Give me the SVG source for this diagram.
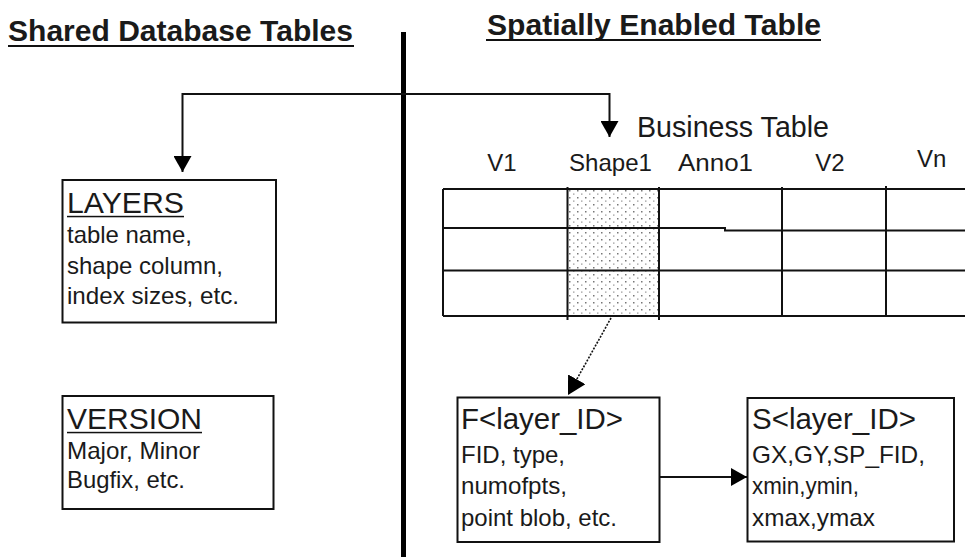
<svg xmlns="http://www.w3.org/2000/svg" width="965" height="557" viewBox="0 0 965 557">
  <style>
    text { font-family: "Liberation Sans", Arial, sans-serif; fill: #1a1a1a; }
    .title { font-size: 30px; font-weight: bold; }
    .head { font-size: 30px; }
    .body { font-size: 24px; }
    .col { font-size: 24px; }
    .box { fill: #ffffff; stroke: #111; stroke-width: 2; }
    .grid { fill: none; stroke: #111; stroke-width: 2; }
    .link { fill: none; stroke: #111; stroke-width: 2; }
    .dotted { fill: none; stroke: #111; stroke-width: 1.6; stroke-dasharray: 2 1.4; }
  </style>
  <defs>
    <marker id="arrow" viewBox="0 0 16 18" refX="16" refY="9" markerWidth="16" markerHeight="18" markerUnits="userSpaceOnUse" orient="auto-start-reverse">
      <path d="M0,0 L16,9 L0,18 Z" fill="#000"/>
    </marker>
    <marker id="arrow-lg" viewBox="0 0 18 20" refX="18" refY="10" markerWidth="18" markerHeight="20" markerUnits="userSpaceOnUse" orient="auto">
      <path d="M0,0 L18,10 L0,20 Z" fill="#000"/>
    </marker>
    <pattern id="stipple" width="8" height="7" patternUnits="userSpaceOnUse">
      <rect x="1" y="1" width="1.5" height="1.5" fill="#777"/>
      <rect x="5" y="4.5" width="1.5" height="1.2" fill="#999"/>
    </pattern>
  </defs>

  <!-- section headings -->
  <g id="headings">
    <text class="title" x="8" y="41" textLength="345" lengthAdjust="spacingAndGlyphs">Shared Database Tables</text>
    <rect x="8" y="45" width="346" height="2" fill="#111"/>
    <text class="title" x="487" y="34.5" textLength="334" lengthAdjust="spacingAndGlyphs">Spatially Enabled Table</text>
    <rect x="486" y="39" width="335" height="2" fill="#111"/>
  </g>

  <!-- divider between the two sections -->
  <rect id="divider" x="401" y="32" width="5" height="525" fill="#000"/>

  <!-- LAYERS table -->
  <g id="layers">
    <rect class="box" x="62.5" y="180" width="213.5" height="142.5"/>
    <text class="head" x="67" y="213" textLength="117" lengthAdjust="spacingAndGlyphs">LAYERS</text>
    <rect x="67" y="215.8" width="117" height="1.5" fill="#111"/>
    <text class="body" x="67" y="243" textLength="125" lengthAdjust="spacingAndGlyphs">table name,</text>
    <text class="body" x="67" y="273.5" textLength="156" lengthAdjust="spacingAndGlyphs">shape column,</text>
    <text class="body" x="67" y="304" textLength="172" lengthAdjust="spacingAndGlyphs">index sizes, etc.</text>
  </g>

  <!-- VERSION table -->
  <g id="version">
    <rect class="box" x="62.5" y="396" width="211" height="113"/>
    <text class="head" x="67" y="428.5" textLength="135" lengthAdjust="spacingAndGlyphs">VERSION</text>
    <rect x="67" y="431.8" width="135" height="1.5" fill="#111"/>
    <text class="body" x="67" y="458.5" textLength="133" lengthAdjust="spacingAndGlyphs">Major, Minor</text>
    <text class="body" x="67" y="488" textLength="118" lengthAdjust="spacingAndGlyphs">Bugfix, etc.</text>
  </g>

  <!-- business table with its shape column -->
  <g id="business-table">
    <text class="head" x="637" y="137" font-size="28" textLength="192" lengthAdjust="spacingAndGlyphs">Business Table</text>
    <text class="col" x="502" y="171" text-anchor="middle">V1</text>
    <text class="col" x="569" y="171" textLength="83" lengthAdjust="spacingAndGlyphs">Shape1</text>
    <text class="col" x="678" y="171" textLength="75" lengthAdjust="spacingAndGlyphs">Anno1</text>
    <text class="col" x="830" y="171" text-anchor="middle">V2</text>
    <text class="col" x="917" y="167">Vn</text>
    <rect x="567.5" y="189" width="91.5" height="127" fill="url(#stipple)"/>
    <path class="grid" d="M443,189 H965 M443,228 H725 V230.5 H965 M443,270.5 H965 M443,316 H965"/>
    <path class="grid" d="M443,189 V316 M567.5,187 V320 M659,187 V320 M782,187 V316 M886,186 V316"/>
  </g>

  <!-- feature table -->
  <g id="feature-table">
    <rect class="box" x="457.5" y="397.5" width="202" height="144.5"/>
    <text class="head" x="461" y="429" textLength="162" lengthAdjust="spacingAndGlyphs">F&lt;layer_ID&gt;</text>
    <text class="body" x="461" y="463" textLength="104" lengthAdjust="spacingAndGlyphs">FID, type,</text>
    <text class="body" x="461" y="493.5" textLength="106" lengthAdjust="spacingAndGlyphs">numofpts,</text>
    <text class="body" x="461" y="525.5" textLength="156" lengthAdjust="spacingAndGlyphs">point blob, etc.</text>
  </g>

  <!-- spatial index table -->
  <g id="spatial-index-table">
    <rect class="box" x="747.5" y="398" width="206.5" height="143.5"/>
    <text class="head" x="752" y="429" textLength="164" lengthAdjust="spacingAndGlyphs">S&lt;layer_ID&gt;</text>
    <text class="body" x="752" y="463" textLength="173" lengthAdjust="spacingAndGlyphs">GX,GY,SP_FID,</text>
    <text class="body" x="752" y="493.5" textLength="107" lengthAdjust="spacingAndGlyphs">xmin,ymin,</text>
    <text class="body" x="752" y="525.5" textLength="123" lengthAdjust="spacingAndGlyphs">xmax,ymax</text>
  </g>

  <!-- connectors -->
  <g id="connectors">
    <path class="link" d="M182.5,172 V94 H609.5 V137" marker-start="url(#arrow)" marker-end="url(#arrow)"/>
    <path class="dotted" d="M611,318 L568,395" marker-end="url(#arrow-lg)"/>
    <path class="link" d="M660,477 H747" marker-end="url(#arrow)"/>
  </g>
</svg>
